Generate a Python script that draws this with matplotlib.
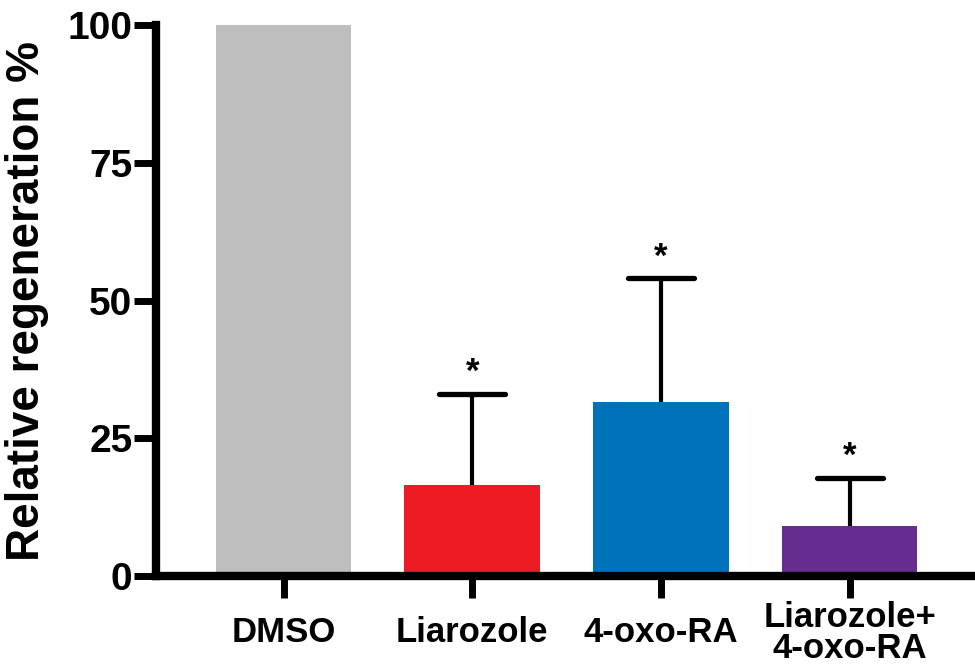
import numpy as np
import matplotlib
matplotlib.use('Agg')
import matplotlib.pyplot as plt

groups = ['DMSO', 'Liarozole', '4-oxo-RA', 'Liarozole+\n4-oxo-RA']
means = [100, 16.6, 31.5, 9.0]
sd = [0, 16.5, 22.5, 8.8]
colors = ['#BEBEBE', '#ED1C24', '#0072BC', '#662D91']
stars = ['', '*', '*', '*']

plt.rcParams['font.family'] = ['Liberation Sans', 'DejaVu Sans']
plt.rcParams['font.weight'] = 'bold'

fig = plt.figure(figsize=(9.75, 6.65), dpi=100)
ax = fig.add_axes([0.16, 0.1338, 0.84, 0.8286])

x = np.arange(len(groups))
bw = 0.72
ax.bar(x, means, width=bw, color=colors, zorder=2)

# upper-only SD bars with round ends, then significance stars
cap = 0.175
for i in range(1, len(groups)):
    top = means[i] + sd[i]
    ax.vlines(x[i], means[i], top, color='black', linewidth=3, zorder=3)
    ax.hlines(top, x[i] - cap, x[i] + cap, color='black', linewidth=3.8,
              capstyle='round', zorder=3)
    ax.text(x[i], top + 3.9, stars[i], ha='center', va='center',
            fontsize=25, fontweight='bold')

ax.set_xlim(-0.676, 3.665)
ax.set_ylim(0, 100)
ax.set_yticks([0, 25, 50, 75, 100])
ax.set_xticks(x)
ax.set_xticklabels(groups, fontsize=25, fontweight='bold', linespacing=0.93,
                   va='center')
for lab in ax.get_yticklabels():
    lab.set_fontsize(28)
    lab.set_fontweight('heavy')
ax.set_ylabel('Relative regeneration %', fontsize=33, fontweight='bold',
              va='center')
ax.yaxis.set_label_coords(-0.157, 0.5)

for s in ['top', 'right']:
    ax.spines[s].set_visible(False)
for s in ['left', 'bottom']:
    ax.spines[s].set_linewidth(6)
ax.tick_params(axis='y', length=16, width=5, pad=1)
ax.tick_params(axis='x', length=16, width=5, pad=25)

fig.savefig('out.png', dpi=100)
